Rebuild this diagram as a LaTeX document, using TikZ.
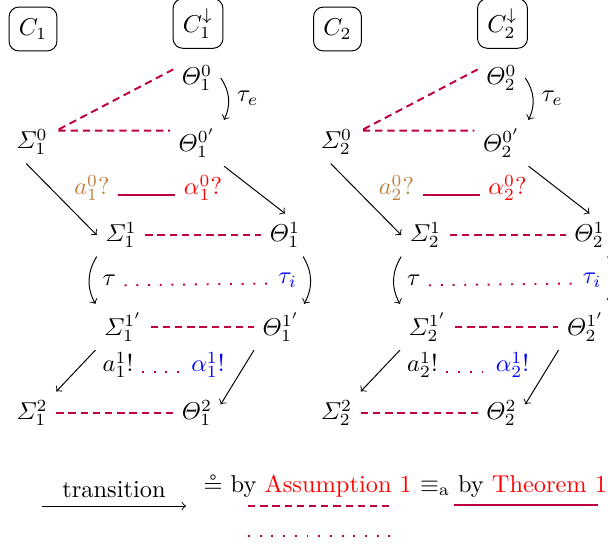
\documentclass[tikz,border=0pt]{standalone}
\usepackage{amsmath,amssymb}
\begin{document}
\begin{tikzpicture}[x=4.1pt,y=-4.1pt,
  box/.style={draw,rounded corners=4pt,inner sep=4pt,minimum width=19.5pt,minimum height=18pt},
  eqv/.style={thick,purple,dash pattern=on 3pt off 2pt},
  sim/.style={thick,purple,loosely dotted},
  obs/.style={thick,purple}]
  \useasboundingbox (0,0) rectangle (60.8,54.4);
  \foreach \i/\dx in {1/0,2/30.45}{
  \begin{scope}[shift={(\dx,0)}]
    \node[box] (C\i) at (3.3,2.9) {$C_\i$};
    \node[box] (D\i) at (19.8,2.35) {$C_\i^{\downarrow}$};
    \node (S\i0) at (3.2,14.2) {$\varSigma_\i^0$};
    \node (T\i0) at (19.7,7.8) {$\varTheta_\i^0$};
    \node (T\i0p) at (19.7,14.3) {$\varTheta_\i^{0'}$};
    \node[text=brown] (a\i0) at (9.2,18.8) {$a_\i^0?$};
    \node[text=red] (b\i0) at (20.3,18.8) {$\alpha_\i^0?$};
    \node (S\i1) at (12.1,23.5) {$\varSigma_\i^1$};
    \node (T\i1) at (28.5,23.5) {$\varTheta_\i^1$};
    \node (S\i1p) at (12.3,32.7) {$\varSigma_\i^{1'}$};
    \node (T\i1p) at (28.1,32.7) {$\varTheta_\i^{1'}$};
    \node (a\i1) at (11.8,36.5) {$a_\i^1!$};
    \node[text=blue] (b\i1) at (20.8,36.5) {$\alpha_\i^1!$};
    \node (S\i2) at (3.2,41.3) {$\varSigma_\i^2$};
    \node (T\i2) at (19.7,41.3) {$\varTheta_\i^2$};
    % step 0
    \draw[eqv] (T\i0.160) -- (S\i0.25) -- (S\i0.25 -| T\i0p.west);
    \draw[->] (T\i0.east) to[bend left] node[right] (te\i) {$\tau_e$} (T\i0p.north east);
    \draw[obs] (a\i0.base east) -- (b\i0.base west);
    \draw[->] (S\i0.-105) -- (S\i1.west);
    \draw[->] (T\i0p.south east) -- (T\i1.north);
    % step 1
    \draw[eqv] (S\i1) -- (T\i1);
    \draw[->] (S\i1.south west) to[bend right] node[right=2pt] (tau\i) {$\tau$} (S\i1p.north west);
    \draw[->] (T\i1.-50) to[bend left] node[left=2pt,text=blue] (ti\i) {$\tau_i$} (T\i1p.45);
    \draw[sim] (tau\i.base east) -- (ti\i.base west);
    \draw[eqv] (S\i1p) -- (T\i1p);
    \draw[sim] (a\i1.base east) -- (b\i1.base west);
    \draw[->] (S\i1p.south west) -- (S\i2.north east);
    \draw[->] (T\i1p.south west) -- (T\i2.20);
    % step 2
    \draw[eqv] (S\i2) -- (T\i2);
  \end{scope}}
  % legend
  \coordinate (tr1) at (4.2,50.6);
  \coordinate (tr2) at (18.6,50.6);
  \draw[->] (tr1) -- node[above] (trans) {transition} (tr2);
  \node[anchor=base west] (leg) at (19.5,49.2) {$\circeq$ by \textcolor{red}{Assumption 1} $\equiv_{\mathrm{a}}$ by \textcolor{red}{Theorem 1}};
  \coordinate (eq1) at (24.8,50.6);
  \coordinate (eq2) at (38.9,50.6);
  \coordinate (si1) at (24.8,53.6);
  \coordinate (si2) at (39.0,53.6);
  \coordinate (ob1) at (45.4,50.5);
  \coordinate (ob2) at (59.8,50.5);
  \draw[eqv] (eq1) -- (eq2);
  \draw[sim] (si1) -- (si2);
  \draw[obs] (ob1) -- (ob2);
\end{tikzpicture}
\end{document}
